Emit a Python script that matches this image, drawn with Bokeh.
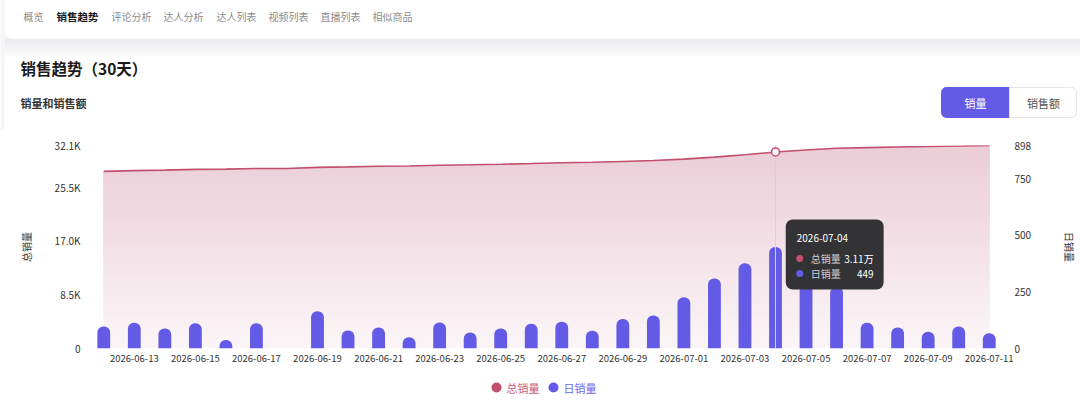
from bokeh.plotting import figure
from bokeh.models import Range1d, LinearAxis, FixedTicker
from bokeh.layouts import column
from bokeh.core.properties import value
from bokeh.embed import file_html
from bokeh.resources import INLINE

# ---------------- data ----------------
dates = ["2026-06-12", "2026-06-13", "2026-06-14", "2026-06-15", "2026-06-16",
         "2026-06-17", "2026-06-18", "2026-06-19", "2026-06-20", "2026-06-21",
         "2026-06-22", "2026-06-23", "2026-06-24", "2026-06-25", "2026-06-26",
         "2026-06-27", "2026-06-28", "2026-06-29", "2026-06-30", "2026-07-01",
         "2026-07-02", "2026-07-03", "2026-07-04", "2026-07-05", "2026-07-06",
         "2026-07-07", "2026-07-08", "2026-07-09", "2026-07-10", "2026-07-11"]
daily_sales = [97, 114, 88, 112, 38, 112, 0, 165, 80, 93,
               50, 115, 71, 88, 109, 118, 78, 131, 146, 227,
               310, 377, 449, 300, 273, 114, 93, 74, 97, 68]
total_sales = [28010, 28124, 28212, 28324, 28362, 28474, 28474, 28639, 28719, 28812,
               28862, 28977, 29048, 29136, 29245, 29363, 29441, 29572, 29718, 29945,
               30255, 30632, 31081, 31381, 31654, 31768, 31861, 31935, 32032, 32100]
x_tick_dates = dates[1::2]
left_ticks = [0, 8500, 17000, 25500, 32100]
left_tick_labels = ["0", "8.5K", "17.0K", "25.5K", "32.1K"]
right_ticks = [0, 250, 500, 750, 898]
right_tick_labels = ["0", "250", "500", "750", "898"]
nav_tabs = ["概览", "销售趋势", "评论分析", "达人分析", "达人列表", "视频列表", "直播列表", "相似商品"]
nav_x = [23, 56, 111, 163, 216, 268, 320, 372]
active_tab = "销售趋势"
hover_date = "2026-07-04"
series_names = ["总销量", "日销量"]

FONT = "Noto Sans CJK SC"
RED = "#c24f6e"
BLUE = "#635be5"
W = 1080
H = 402
FL, FR = 88, 1005  # chart frame left/right in page pixels

xi = list(range(len(dates)))  # position of each date on the x scale


def Y(py):
    # page pixel (from top) -> upward coordinate
    return H - py


def X(px):
    # page pixel -> chart x coordinate
    return (px - FL) / (FR - FL) * len(dates) - 0.5


def txt(p, x, y, s, size, color, align="left", style="normal", **kw):
    p.text(x=[x], y=[Y(y)], text=[s], text_font=value(FONT), text_font_size=size,
           text_color=color, text_align=align, text_baseline="middle",
           text_font_style=style, **kw)


def bare(fig):
    fig.axis.visible = False
    fig.grid.visible = False
    fig.outline_line_color = None
    fig.background_fill_color = "white"
    fig.border_fill_color = "white"


# ---------------- header ----------------
head = figure(width=W, height=130, x_range=Range1d(0, W), y_range=Range1d(Y(130), Y(0)),
              output_backend="svg", toolbar_location=None, min_border=0, frame_align=False)
bare(head)

head.quad(left=0, right=W, top=Y(0), bottom=Y(62), fill_color="#f5f5f8", line_color=None)
shadow = ["#ececef", "#efeff2", "#f2f2f4", "#f5f5f7", "#f8f8f9", "#fbfbfc", "#fdfdfd"]
for i, c in enumerate(shadow):
    head.quad(left=4, right=W, top=Y(38 + i * 3), bottom=Y(62), fill_color=c, line_color=None)
head.quad(left=0, right=4, top=Y(0), bottom=Y(130), fill_color="#f5f5fa", line_color=None)
head.quad(left=4, right=W, top=Y(56), bottom=Y(130), fill_color="white", line_color=None)
head.quad(left=4, right=W + 10, top=Y(-10), bottom=Y(38), fill_color="white",
          line_color=None, border_radius=8)

for name, x in zip(nav_tabs, nav_x):
    if name == active_tab:
        txt(head, x, 15.5, name, "10.5px", "#1a1a1a", style="bold")
    else:
        txt(head, x, 15.5, name, "10px", "#8c8c8c")

txt(head, 20, 67, "销售趋势（30天）", "15.5px", "#1a1a1a", style="bold")
txt(head, 20, 102, "销量和销售额", "11px", "#333333", style="bold")

head.quad(left=941, right=1009, top=Y(87), bottom=Y(117), fill_color=BLUE,
          line_color=BLUE, border_radius=(5, 0, 0, 5))
head.quad(left=1009, right=1076, top=Y(87), bottom=Y(117), fill_color="white",
          line_color="#e4e4ea", border_radius=(0, 5, 5, 0))
txt(head, 975, 102, "销量", "11px", "white", align="center")
txt(head, 1043, 102, "销售额", "11px", "#555555", align="center")

# ---------------- chart ----------------
p = figure(width=W, height=242, x_range=Range1d(-0.5, len(dates) - 0.5),
           y_range=Range1d(0, left_ticks[-1]),
           output_backend="svg", toolbar_location=None, frame_align=False,
           min_border_top=15, min_border_bottom=24, min_border_left=FL, min_border_right=W - FR)
p.extra_y_ranges = {"right": Range1d(0, right_ticks[-1]),
                    "py": Range1d(Y(348), Y(145))}
p.outline_line_color = None
p.background_fill_color = "white"
p.border_fill_color = "white"
p.xgrid.visible = False
p.ygrid.ticker = FixedTicker(ticks=[left_ticks[0], left_ticks[-1]])
p.ygrid.grid_line_color = "#e6e6ea"
p.ygrid.grid_line_dash = "4 3"

nb = 40
top_c = (235, 204, 214)
bot_c = (251, 246, 248)
ymax = left_ticks[-1]
for k in range(nb):
    lev = ymax * k / nb
    t = (k + 0.5) / nb
    c = tuple(int(round(bot_c[i] + (top_c[i] - bot_c[i]) * t)) for i in range(3))
    y1 = [min(lev, v) for v in total_sales]
    p.varea(x=xi, y1=y1, y2=total_sales, fill_color="#%02x%02x%02x" % c)

p.line(x=xi, y=total_sales, line_color=RED, line_width=1.6)

p.vbar(x=xi, top=daily_sales, width=0.42, y_range_name="right", fill_color=BLUE,
       line_color=None, border_radius=(6, 6, 0, 0))

x_ticks = [dates.index(d) for d in x_tick_dates]
p.xaxis.ticker = FixedTicker(ticks=x_ticks)
p.xaxis.major_label_overrides = {dates.index(d): d for d in x_tick_dates}
p.xaxis.axis_line_color = None
p.xaxis.major_tick_line_color = None
p.xaxis.minor_tick_line_color = None
p.xaxis.major_label_standoff = 0
p.xaxis.major_label_text_font = FONT
p.xaxis.major_label_text_font_size = "9.5px"
p.xaxis.major_label_text_color = "#333333"

p.yaxis.ticker = FixedTicker(ticks=left_ticks)
p.yaxis.major_label_overrides = dict(zip(left_ticks, left_tick_labels))
p.yaxis.axis_line_color = None
p.yaxis.major_tick_line_color = None
p.yaxis.minor_tick_line_color = None
p.yaxis.major_label_standoff = 2
p.yaxis.major_label_text_font = FONT
p.yaxis.major_label_text_font_size = "10px"
p.yaxis.major_label_text_color = "#333333"
p.yaxis.axis_label = series_names[0]
p.yaxis.axis_label_text_font = FONT
p.yaxis.axis_label_text_font_size = "10px"
p.yaxis.axis_label_text_font_style = "normal"
p.yaxis.axis_label_text_color = "#333333"
p.yaxis.axis_label_standoff = 18

ry = LinearAxis(y_range_name="right", ticker=FixedTicker(ticks=right_ticks))
ry.major_label_overrides = dict(zip(right_ticks, right_tick_labels))
ry.axis_line_color = None
ry.major_tick_line_color = None
ry.minor_tick_line_color = None
ry.major_label_standoff = 4
ry.major_label_text_font = FONT
ry.major_label_text_font_size = "10px"
ry.major_label_text_color = "#333333"
ry.axis_label = series_names[1]
ry.axis_label_text_font = FONT
ry.axis_label_text_font_size = "10px"
ry.axis_label_text_font_style = "normal"
ry.axis_label_text_color = "#333333"
ry.axis_label_standoff = 28
p.add_layout(ry, "right")

hi = dates.index(hover_date)
p.segment(x0=[hi], x1=[hi], y0=[0], y1=[ymax], line_color="#d2d2d8", line_width=1)
p.scatter(x=[hi], y=[total_sales[hi]], size=8, fill_color="white", line_color=RED,
          line_width=1.6)

tip_kw = dict(y_range_name="py")
p.quad(left=X(786), right=X(884), top=Y(219), bottom=Y(289), fill_color="#333335",
       line_color=None, border_radius=7, **tip_kw)
txt(p, X(797), 237, hover_date, "10px", "white", **tip_kw)
p.scatter(x=[X(800), X(800)], y=[Y(258), Y(273)], size=7, fill_color=[RED, BLUE],
          line_color=None, **tip_kw)
txt(p, X(811), 258, series_names[0], "10px", "#cfcfd4", **tip_kw)
txt(p, X(811), 273, series_names[1], "10px", "#cfcfd4", **tip_kw)
txt(p, X(874), 258, "%.2f万" % (total_sales[hi] / 10000), "10px", "white", align="right",
    **tip_kw)
txt(p, X(874), 273, str(daily_sales[hi]), "10px", "white", align="right", **tip_kw)

# ---------------- footer / legend ----------------
foot = figure(width=W, height=30, x_range=Range1d(0, W), y_range=Range1d(Y(402), Y(372)),
              output_backend="svg", toolbar_location=None, min_border=0, frame_align=False)
bare(foot)
foot.scatter(x=[496, 553], y=[Y(387), Y(387)], size=10, fill_color=[RED, BLUE], line_color=None)
txt(foot, 506, 387, series_names[0], "11px", "#c65a7b")
txt(foot, 563, 387, series_names[1], "11px", "#6f68e8")

layout = column(head, p, foot, spacing=0)
open("out.html", "w").write(file_html(layout, INLINE))
